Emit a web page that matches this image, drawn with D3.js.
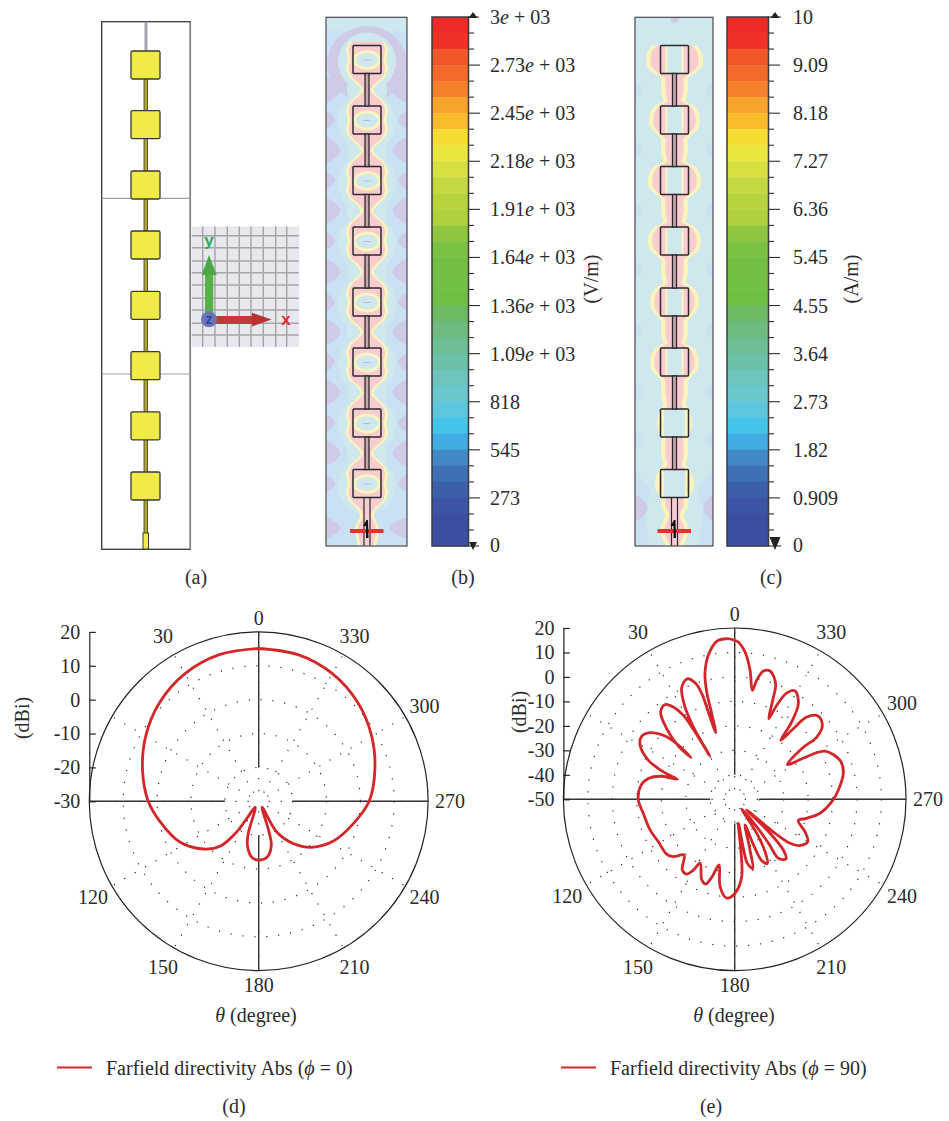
<!DOCTYPE html>
<html>
<head>
<meta charset="utf-8">
<script src="https://cdnjs.cloudflare.com/ajax/libs/d3/7.8.5/d3.min.js"></script>
<style>
  html, body { margin: 0; padding: 0; background: #fff; }
  svg text { font-family: "Liberation Serif", "DejaVu Serif", serif; fill: #2b2b2b; }
</style>
</head>
<body>
<svg id="figure" width="949" height="1121"></svg>
<script>
// colour bands of the two field legends, top to bottom
const bandColors = ["#ee2a27", "#ef3128", "#f2572a", "#f4692a", "#f6812c", "#f8a32c", "#f9bb2b", "#f5dc31",
    "#e9e63f", "#d6e041", "#c4d93f", "#b5d33d", "#b0d03c", "#8ec63f", "#7bc142", "#72bf44", "#71bf44",
    "#70bf45", "#6cba64", "#6dbb7f", "#6dbd95", "#6bc0a8", "#6cc4bd", "#6ac8cd", "#5cc6dd", "#44c4e8",
    "#40ace2", "#4289c5", "#3f70b4", "#3c5fa9", "#3b55a4", "#3a4fa2", "#3c50a3"];

const eFieldLabels = ["3e + 03", "2.73e + 03", "2.45e + 03", "2.18e + 03", "1.91e + 03", "1.64e + 03",
    "1.36e + 03", "1.09e + 03", "818", "545", "273", "0"];
const hFieldLabels = ["10", "9.09", "8.18", "7.27", "6.36", "5.45", "4.55", "3.64", "2.73", "1.82", "0.909", "0"];

// polar cuts, theta in degrees and directivity in dBi
const thetaD = [0, 15, 30, 45, 60, 75, 90, 101.8, 117.3, 130.7, 139.3, 144.3, 145.3, 149.5,
    162, 165.6, 172.8, 180, 188.8, 196, 198.6, 210.5, 210.4, 219.3, 229, 242, 256.7, 270, 285,
    300, 315, 330, 345, 360];
const gainD = [15.1, 14.8, 13.5, 11.3, 8.5, 5.5, 2.6, -0.3, -3.8, -8.4, -12.5, -18.9, -23.8, -28,
    -20, -16.6, -13.4, -12.6, -13.4, -16.5, -20.4, -28, -19.5, -13.9, -9.3, -5, -1.3, 2.6, 5.5,
    8.5, 11.3, 13.5, 14.8, 15.1];

const thetaE = [0, 2.9, 6.5, 10.4, 13.3, 14.6, 15, 15.9,
    16.8, 17.3, 18.6, 21.5, 25.4, 28.3, 29.7, 29.9,
    30.5, 31.4, 33.6, 36.3, 40.3, 43.9, 46.6, 46.3,
    46.2, 48.1, 51.8, 55.9, 60.3, 65.7, 69, 70.8,
    72.5, 76.5, 81.9, 90, 98.7, 109.9, 119, 128.8, 133.1, 137.7,
    143.5, 147.3, 149.7, 151.6, 157.8, 161.1, 163.6, 166.6,
    170.5, 175.4, 180.2, 185.2, 188.7,
    190, 191.2, 194.6, 196.8, 201.9,
    202.5, 203.8, 207, 210.1, 212.9, 216,
    218.8, 217.5, 216.5, 220.7, 223.8, 226.1, 228.4,
    229.9, 231.5, 234.7, 239.9, 245.3, 251.5,
    255.2, 260.7, 268.6, 275, 284.1, 290.3, 298.1, 300.3, 303.4,
    307.1, 307.2, 310.2, 314.8, 318.8, 320.3, 322,
    323.6, 326.4, 330.9, 333.9, 335.9, 337.1,
    339, 340.5, 344.6, 347.4, 349.5, 350.8,
    353.2, 356, 358.7, 360];
const gainE = [15, 15.7, 15, 9.8, 2.8, -4.6, -13.8, -21.7,
    -12.7, -4.8, -0.1, 2.9, 0.5, -7.2, -16, -29.3,
    -18.1, -9.8, -4.7, -1.9, -3.2, -9.9, -18.3, -25.3,
    -17.2, -10.8, -6, -4.1, -5.5, -11.3, -18.8, -25.2,
    -18.7, -13.7, -11.2, -10.6, -12.2, -13.2, -14.3, -14.3, -15.7, -19.2,
    -14, -13.7, -16.5, -20.3, -14.4, -13.4, -16.8, -22.4,
    -13.8, -9.5, -11.6, -18.3, -40.1,
    -29.7, -23.3, -20.8, -28.3, -38.7,
    -29.2, -22.6, -20.6, -25.3, -33.4, -45.1,
    -35.7, -26.8, -20, -17.9, -21.3, -30, -43.5,
    -28.4, -21.1, -17.3, -15.5, -18.4, -22.6,
    -19.6, -14.7, -10.3, -7.5, -4.2, -4.1, -8.2, -14.3, -24.2,
    -15.7, -7.9, -3.1, -1.8, -5.3, -12.5, -19.4,
    -10.8, -3, 0.7, -1.6, -7.9, -14.2,
    -6.7, 0.1, 4.4, 3.7, -0.5, -4.9,
    3.1, 10.4, 14.3, 15];

const angleLabels = [0, 30, 120, 150, 180, 210, 240, 270, 300, 330];
const spokeAngles = d3.range(0, 360, 30);
const ticksD = [20, 10, 0, -10, -20, -30];
const ticksE = [20, 10, 0, -10, -20, -30, -40, -50];

// antenna drawing: patch centres in panel (a) and in the two field maps
const patchCentersA = [65, 124.7, 185, 245, 305.3, 365.7, 425.8, 486];
const patchCentersField = [59.5, 120, 180.5, 241, 302, 362, 423, 483.5];
const haloH = [24, 21, 22, 22, 20, 20, 13, 15];

const svg = d3.select("#figure");
const ink = "#3a3a3a";
const bgBlue = "#cfe8ee", softBlue = "#c9e1f1", lavender = "#cfcbe6", pink = "#f9ccd0", paleYellow = "#f8f4bb";
const curveRed = "#d2262b";
const textSize = 20;

drawLayout();
drawGizmo();
drawEField(326, 81);
drawHField(635, 78);
drawColorbar(432, 36.5, eFieldLabels, 490, 473, 4, 8);
drawColorbar(727, 41.5, hFieldLabels, 793, 775, 5.5, 13);
drawPolar(258.7, 801.3, 169.4, [-30, 20], ticksD, thetaD, gainD);
drawPolar(734.7, 799.3, 171.3, [-50, 20], ticksE, thetaE, gainE);

addText(196, 577, "(a)", textSize);
addText(463, 577, "(b)", textSize);
addText(771, 577, "(c)", textSize);
addText(234, 1106, "(d)", textSize);
addText(711, 1106, "(e)", textSize);
rotated(591, 279, "(V/m)");
rotated(851, 279, "(A/m)");
rotated(22, 718, "(dBi)");
rotated(519, 712, "(dBi)");
thetaLabel(256, 1015);
thetaLabel(734, 1015);
legend(57, 1067.5, "0");
legend(561, 1067.5, "90");

function addText(x, y, s, size) {
    return svg.append("text").attr("x", x).attr("y", y).attr("text-anchor", "middle")
        .attr("dominant-baseline", "central").attr("font-size", size).text(s);
}

function rotated(x, y, s) {
    svg.append("text").attr("transform", `translate(${x},${y}) rotate(-90)`).attr("text-anchor", "middle")
        .attr("dominant-baseline", "central").attr("font-size", textSize).text(s);
}

function thetaLabel(x, y) {
    let t = addText(x, y, "", textSize);
    t.append("tspan").attr("font-style", "italic").text("θ");
    t.append("tspan").text(" (degree)");
}

function legend(x, y, phiValue) {
    svg.append("line").attr("x1", x).attr("x2", x + 35).attr("y1", y).attr("y2", y)
        .attr("stroke", curveRed).attr("stroke-width", 1.8);
    let t = svg.append("text").attr("x", x + 49).attr("y", y).attr("dominant-baseline", "central").attr("font-size", textSize);
    t.append("tspan").text("Farfield directivity Abs (");
    t.append("tspan").attr("font-style", "italic").text("ϕ");
    t.append("tspan").text(` = ${phiValue})`);
}

function drawLayout() {
    let g = svg.append("g");
    g.append("rect").attr("x", 101.7).attr("y", 21.7).attr("width", 88.5).attr("height", 527.6)
        .attr("fill", "#fff").attr("stroke", ink).attr("stroke-width", 1.3);
    g.append("line").attr("x1", 190.6).attr("x2", 190.6).attr("y1", 22).attr("y2", 549)
        .attr("stroke", "#8b8b93").attr("stroke-width", 1);
    [198.3, 374].forEach(y => {
        g.append("line").attr("x1", 102).attr("x2", 191).attr("y1", y).attr("y2", y)
            .attr("stroke", "#a0a0a6").attr("stroke-width", 1.2);
    });
    g.append("rect").attr("x", 144.5).attr("y", 22).attr("width", 3).attr("height", 30).attr("fill", "#a5a5ae");
    g.append("rect").attr("x", 144).attr("y", 78).attr("width", 3.6).attr("height", 456)
        .attr("fill", "#aea52b").attr("stroke", ink).attr("stroke-width", 0.8);
    g.append("g").selectAll("rect").data(patchCentersA).join("rect")
        .attr("x", 131).attr("y", d => d - 14).attr("width", 29).attr("height", 28).attr("rx", 1.5)
        .attr("fill", "#f0eb46").attr("stroke", ink).attr("stroke-width", 1.3);
    g.append("rect").attr("x", 143).attr("y", 533).attr("width", 5.5).attr("height", 16)
        .attr("fill", "#f0eb46").attr("stroke", ink).attr("stroke-width", 1);
}

function drawGizmo() {
    let g = svg.append("g");
    g.append("rect").attr("x", 191.7).attr("y", 226.5).attr("width", 107.5).attr("height", 120.5).attr("fill", "#e6e8ee");
    [202.7, 215, 227.3, 239.3, 251, 263.3, 275.7, 286.7].forEach(x => {
        g.append("line").attr("x1", x).attr("x2", x).attr("y1", 226.5).attr("y2", 347)
            .attr("stroke", "#a4a4a8").attr("stroke-width", 1.4);
    });
    [235.7, 247.7, 261, 272.7, 285, 298.3, 310, 323.3, 335].forEach(y => {
        g.append("line").attr("x1", 191.7).attr("x2", 299).attr("y1", y).attr("y2", y)
            .attr("stroke", "#a4a4a8").attr("stroke-width", 1.4);
    });
    g.append("rect").attr("x", 205).attr("y", 273).attr("width", 8.3).attr("height", 42).attr("fill", "#55b24a");
    g.append("path").attr("d", "M209,255L201.7,275L216.7,275Z").attr("fill", "#4ca846");
    g.append("rect").attr("x", 212).attr("y", 316).attr("width", 41).attr("height", 8).attr("fill", "#c2393a");
    g.append("path").attr("d", "M271.7,319.5L252,312.7L252,326.5Z").attr("fill", "#b93234");
    g.append("circle").attr("cx", 209).attr("cy", 319.3).attr("r", 8).attr("fill", "#6a75b5");
    g.append("text").attr("x", 209).attr("y", 319).attr("text-anchor", "middle").attr("dominant-baseline", "central")
        .attr("font-size", 14).attr("font-weight", "bold").style("font-family", "Liberation Sans").style("fill", "#2f45a8").text("z");
    g.append("text").attr("x", 209).attr("y", 240).attr("text-anchor", "middle").attr("dominant-baseline", "central")
        .attr("font-size", 17).attr("font-weight", "bold").style("font-family", "Liberation Sans").style("fill", "#2fa84f").text("y");
    g.append("text").attr("x", 286).attr("y", 319.5).attr("text-anchor", "middle").attr("dominant-baseline", "central")
        .attr("font-size", 17).attr("font-weight", "bold").style("font-family", "Liberation Sans").style("fill", "#ee2b30").text("x");
}

// halo around the antenna, widened by `grow` px, built from half-widths along y
function haloPath(cx, profile, grow) {
    return d3.area().y(d => d.y).x0(d => cx - d.h - grow).x1(d => cx + d.h + grow)
        .curve(d3.curveCatmullRom)(profile);
}

function drawAntennaOutline(g, cx, patchW) {
    g.append("g").selectAll("rect").data(patchCentersField).join("rect")
        .attr("x", cx - patchW / 2).attr("y", d => d - 14).attr("width", patchW).attr("height", 28).attr("rx", 1)
        .attr("fill", "none").attr("stroke", "#2c2a2e").attr("stroke-width", 1.5);
    d3.pairs(patchCentersField).forEach(([a, b]) => {
        g.append("rect").attr("x", cx - 2).attr("y", a + 14).attr("width", 4).attr("height", b - a - 28)
            .attr("fill", "#c9a5a8").attr("stroke", "#2c2a2e").attr("stroke-width", 1.3);
    });
    g.append("path").attr("d", `M${cx - 3},546V498M${cx + 3},546V498`).attr("stroke", "#2c2a2e").attr("stroke-width", 1.2);
    g.append("rect").attr("x", cx - 17).attr("y", 529).attr("width", 33.5).attr("height", 4).attr("fill", "#ee2e30");
    g.append("path").attr("d", `M${cx - 4},526L${cx - 0.5},520L${cx + 1},520L${cx + 1.5},538L${cx - 1},538L${cx - 1},526Z`).attr("fill", "#111");
}

function fieldGroup(x, width, id) {
    svg.append("clipPath").attr("id", id).append("rect").attr("x", x).attr("y", 17.3).attr("width", width).attr("height", 528.7);
    return svg.append("g").attr("clip-path", `url(#${id})`);
}

function fieldFrame(x, width) {
    svg.append("rect").attr("x", x).attr("y", 17.3).attr("width", width).attr("height", 528.7)
        .attr("fill", "none").attr("stroke", "#4a4a4e").attr("stroke-width", 1.2);
}

function edgeWedge(g, x0, dir, cy, depth, half, fill) {
    let pts = [[x0 - 4 * dir, cy - half], [x0 + depth * 0.4 * dir, cy - half * 0.55], [x0 + depth * dir, cy],
        [x0 + depth * 0.4 * dir, cy + half * 0.55], [x0 - 4 * dir, cy + half]];
    g.append("path").attr("d", d3.line().curve(d3.curveBasisClosed)(pts)).attr("fill", fill);
}

function drawEField(x, width) {
    let g = fieldGroup(x, width, "clip-e");
    let cx = x + width / 2 + 0.5;
    g.append("rect").attr("x", x).attr("y", 17).attr("width", width).attr("height", 530).attr("fill", softBlue);
    g.append("rect").attr("x", x).attr("y", 17).attr("width", width).attr("height", 14).attr("fill", bgBlue);

    // lavender crescent over the first patch
    g.append("ellipse").attr("cx", cx).attr("cy", 64).attr("rx", 40).attr("ry", 38).attr("fill", lavender);

    // wedges on both long edges
    let mids = d3.pairs(patchCentersField).map(([a, b]) => (a + b) / 2);
    mids.forEach(m => {
        edgeWedge(g, x, 1, m, 18, 17, lavender);
        edgeWedge(g, x + width, -1, m, 18, 17, lavender);
    });
    patchCentersField.slice(1).forEach(c => {
        edgeWedge(g, x, 1, c, 11, 12, lavender);
        edgeWedge(g, x + width, -1, c, 11, 12, lavender);
    });
    edgeWedge(g, x, 1, 528, 18, 14, lavender);
    edgeWedge(g, x + width, -1, 528, 22, 14, lavender);

    // pale centre column
    g.selectAll("ellipse.core").data(patchCentersField).join("ellipse").attr("class", "core")
        .attr("cx", cx).attr("cy", d => d + 2).attr("rx", 29).attr("ry", 29).attr("fill", bgBlue);
    g.selectAll("ellipse.corem").data(mids).join("ellipse").attr("class", "corem")
        .attr("cx", cx).attr("cy", d => d).attr("rx", 20).attr("ry", 20).attr("fill", bgBlue);

    let profile = [];
    patchCentersField.forEach((c, i) => {
        [[-30, 3.5], [-24, 8], [-18, 14.5], [-10, 18], [0, 16.5], [10, 18], [18, 14.5], [24, 8]].forEach(([dy, h]) => {
            if (i === 0 && dy < -18) return;
            profile.push({ y: c + dy, h: h });
        });
    });
    profile.push({ y: 515, h: 4 }, { y: 528, h: 9 }, { y: 546, h: 6 });
    g.append("path").attr("d", haloPath(cx, profile, 3)).attr("fill", paleYellow);
    g.append("path").attr("d", haloPath(cx, profile, 0)).attr("fill", pink);

    g.selectAll("ellipse.eye").data(patchCentersField).join("ellipse").attr("class", "eye")
        .attr("cx", cx).attr("cy", d => d + 0.5).attr("rx", 12.5).attr("ry", 8.5)
        .attr("fill", bgBlue).attr("stroke", paleYellow).attr("stroke-width", 3);
    g.selectAll("rect.dash").data(patchCentersField).join("rect").attr("class", "dash")
        .attr("x", cx - 4).attr("y", d => d).attr("width", 8).attr("height", 1).attr("fill", "#c9b9dc");

    drawAntennaOutline(g, cx, 28);
    fieldFrame(x, width);
}

function drawHField(x, width) {
    let g = fieldGroup(x, width, "clip-h");
    let cx = x + width / 2 + 0.5;
    g.append("rect").attr("x", x).attr("y", 17).attr("width", width).attr("height", 530).attr("fill", bgBlue);

    // faint patches towards the edges
    [90, 150, 210, 270, 330, 392, 440].forEach(y => {
        edgeWedge(g, x, 1, y, 9, 12, softBlue);
        edgeWedge(g, x + width, -1, y, 9, 12, softBlue);
    });
    g.append("path").attr("d", `M${x},470L${x + 16},490L${x + 10},510L${x + 14},546L${x},546Z`).attr("fill", softBlue);
    g.append("path").attr("d", `M${x + width},470L${x + width - 16},490L${x + width - 10},510L${x + width - 14},546L${x + width},546Z`).attr("fill", softBlue);
    edgeWedge(g, x, 1, 508, 16, 18, lavender);
    edgeWedge(g, x + width, -1, 508, 12, 18, lavender);
    g.append("circle").attr("cx", cx).attr("cy", 19).attr("r", 4).attr("fill", lavender);

    let profile = [];
    patchCentersField.forEach((c, i) => {
        let bulge = haloH[i];
        [[-30, 9], [-23, 8], [-19, 7], [-14, bulge * 0.72], [-7, bulge - 1], [0, bulge], [7, bulge - 1], [14, bulge * 0.65], [19, 9], [23, 9]].forEach(([dy, h]) => {
            if (i === 0 && dy < -14) return;
            profile.push({ y: c + dy, h: h });
        });
    });
    profile.push({ y: 515, h: 5 }, { y: 530, h: 10 }, { y: 546, h: 4 });
    g.append("path").attr("d", haloPath(cx, profile, 4.5)).attr("fill", paleYellow);
    g.append("path").attr("d", haloPath(cx, profile, 0)).attr("fill", pink);

    // inside of the patches stays pale
    let innerHalf = i => haloH[i] >= 18 ? 9 : 12.5;
    g.selectAll("rect.inner").data(patchCentersField).join("rect").attr("class", "inner")
        .attr("x", (d, i) => cx - innerHalf(i)).attr("y", d => d - 13.5)
        .attr("width", (d, i) => innerHalf(i) * 2).attr("height", 27).attr("fill", paleYellow);
    g.selectAll("rect.inner2").data(patchCentersField).join("rect").attr("class", "inner2")
        .attr("x", (d, i) => cx - innerHalf(i) + 2).attr("y", d => d - 13.5)
        .attr("width", (d, i) => innerHalf(i) * 2 - 4).attr("height", 27).attr("fill", bgBlue);

    drawAntennaOutline(g, cx, 28);
    fieldFrame(x, width);
}

function drawColorbar(x, width, labels, labelX, triangleX, triHalf, triHeight) {
    let y = d3.scaleLinear().domain([0, bandColors.length]).range([17, 546]);
    let g = svg.append("g");
    g.selectAll("rect").data(bandColors).join("rect")
        .attr("x", x).attr("y", (d, i) => y(i)).attr("width", width).attr("height", y(1) - y(0) + 0.4).attr("fill", d => d);
    g.append("rect").attr("x", x).attr("y", 17).attr("width", width).attr("height", 529)
        .attr("fill", "none").attr("stroke", "#3d3b3f").attr("stroke-width", 1.5);

    let right = x + width;
    let ticks = d3.range(1, bandColors.length);
    g.selectAll("line").data(ticks).join("line")
        .attr("x1", right).attr("y1", d => y(d)).attr("y2", d => y(d))
        .attr("x2", d => right + (d % 3 === 0 ? 11.5 : 5.5))
        .attr("stroke", "#2f2f2f").attr("stroke-width", 1.1);
    g.append("line").attr("x1", right).attr("x2", triangleX + 6).attr("y1", 17).attr("y2", 17).attr("stroke", "#222");
    g.append("path").attr("d", `M${triangleX - 4.5},18L${triangleX},12L${triangleX + 4.5},18Z`).attr("fill", "#222");
    g.append("path").attr("d", `M${triangleX - triHalf},${550 - triHeight}H${triangleX + triHalf}L${triangleX},550Z`).attr("fill", "#222");
    g.append("line").attr("x1", right).attr("x2", triangleX + 6).attr("y1", 546).attr("y2", 546).attr("stroke", "#222");

    labels.forEach((s, i) => {
        let t = svg.append("text").attr("x", labelX).attr("y", y(i * 3) + (i === 11 ? -1 : 0))
            .attr("dominant-baseline", "central").attr("font-size", textSize);
        let m = s.match(/^([\d.]+)e( \+ .*)$/);
        if (m) {
            t.append("tspan").text(m[1]);
            t.append("tspan").attr("font-style", "italic").text("e");
            t.append("tspan").text(m[2]);
        } else {
            t.text(s);
        }
    });
}

function drawPolar(cx, cy, R, domain, ticks, thetas, gains) {
    let r = d3.scaleLinear().domain(domain).range([0, R]);
    let rad = d3.scaleLinear().domain([0, 360]).range([0, -2 * Math.PI]);
    let g = svg.append("g").attr("transform", `translate(${cx},${cy})`);

    let dotted = "1.2 10.8";
    g.selectAll("circle.ring").data(ticks.slice(1, -1)).join("circle").attr("class", "ring")
        .attr("r", d => r(d)).attr("fill", "none").attr("stroke", "#2a2a2a")
        .attr("stroke-width", 1.2).attr("stroke-dasharray", dotted);

    let inner = r(ticks[ticks.length - 2]);
    g.selectAll("line.dots").data(spokeAngles).join("line").attr("class", "dots")
        .attr("x1", d => 10 * Math.sin(rad(d))).attr("y1", d => -10 * Math.cos(rad(d)))
        .attr("x2", d => R * Math.sin(rad(d))).attr("y2", d => -R * Math.cos(rad(d)))
        .attr("stroke", "#2a2a2a").attr("stroke-width", 1.2).attr("stroke-dasharray", dotted);
    g.selectAll("line.spoke").data(spokeAngles.filter(d => d % 90 === 0)).join("line").attr("class", "spoke")
        .attr("x1", d => inner * Math.sin(rad(d))).attr("y1", d => -inner * Math.cos(rad(d)))
        .attr("x2", d => R * Math.sin(rad(d))).attr("y2", d => -R * Math.cos(rad(d)))
        .attr("stroke", "#333").attr("stroke-width", 1.4);

    g.append("circle").attr("r", R).attr("fill", "none").attr("stroke", "#222").attr("stroke-width", 1.2);

    // radial scale drawn on the left, running from the centre up to the rim
    let axisScale = d3.scaleLinear().domain(domain).range([0, -R]);
    let axis = d3.axisLeft(axisScale).tickValues(ticks).tickSize(-6.5).tickSizeOuter(0).tickPadding(9)
        .tickFormat(d => String(d));
    let ax = g.append("g").attr("transform", `translate(${-R},0)`).call(axis);
    ax.selectAll("text").attr("font-size", textSize).attr("font-family", "Liberation Serif").style("fill", "#2b2b2b");
    ax.selectAll("line").attr("stroke", "#222").attr("stroke-width", 1.2);
    ax.select(".domain").attr("stroke", "#222").attr("stroke-width", 1.2);

    g.selectAll("text.angle").data(angleLabels).join("text").attr("class", "angle")
        .attr("text-anchor", "middle").attr("dominant-baseline", "central").attr("font-size", textSize)
        .attr("x", d => (R + (d % 180 === 0 ? 14 : 22)) * Math.sin(rad(d)))
        .attr("y", d => -(R + (d % 180 === 0 ? 14 : 22)) * Math.cos(rad(d)))
        .text(d => d);

    let pts = thetas.map((t, i) => [t, gains[i]]);
    let line = d3.lineRadial().angle(d => rad(d[0])).radius(d => r(d[1])).curve(d3.curveCatmullRom.alpha(0.5));
    g.append("path").attr("d", line(pts)).attr("fill", "none").attr("stroke", curveRed)
        .attr("stroke-width", 2.8).attr("stroke-linejoin", "round");
}
</script>
</body>
</html>
